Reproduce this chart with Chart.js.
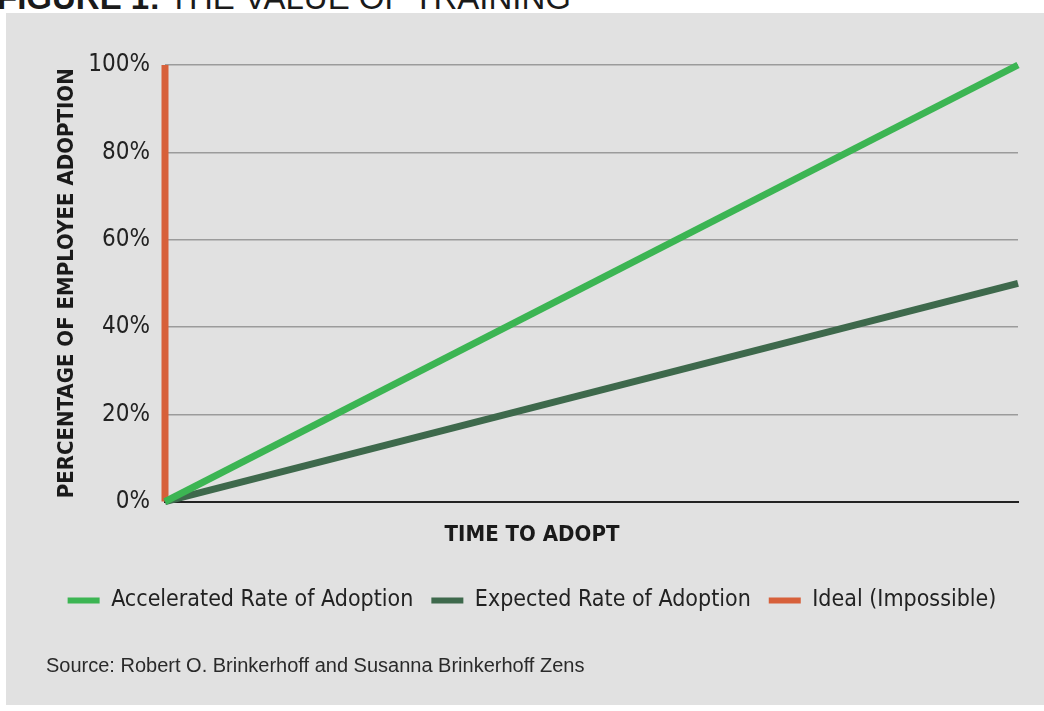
<!DOCTYPE html>
<html>
<head>
<meta charset="utf-8">
<script src="https://cdn.jsdelivr.net/npm/chart.js@4.4.1/dist/chart.umd.min.js"></script>
<style>
  html, body { margin: 0; padding: 0; background: #ffffff; overflow: hidden; }
  body { width: 1044px; height: 711px; position: relative; }
  #header {
    position: absolute; left: -3px; top: -19px;
    font-family: "Liberation Sans", Arial, sans-serif; font-size: 33px; line-height: 33px;
    color: #1a1a1a; white-space: nowrap;
  }
  #header b { font-weight: bold; }
  #panel {
    position: absolute; left: 6px; top: 13px; width: 1038px; height: 692px;
    background: #e1e1e1;
  }
</style>
</head>
<body>
<div id="header"><b>FIGURE 1:</b> THE VALUE OF TRAINING</div>
<div id="panel"><canvas id="adoptionChart" width="1038" height="692"></canvas></div>
<script>
// time runs 0..100 (no tick labels shown), adoption in %
const timePoints = [0, 100];
const acceleratedRate = [0, 100];
const expectedRate = [0, 50];
const idealTime = [0, 0];
const idealRate = [0, 100];
const seriesNames = ['Accelerated Rate of Adoption', 'Expected Rate of Adoption', 'Ideal (Impossible)'];
const yTickStep = 20;

const narrow = "'Liberation Sans Narrow', 'DejaVu Sans Condensed', 'Arial Narrow', sans-serif";

function toPoints(xs, ys) {
    return xs.map((x, i) => ({ x: x, y: ys[i] }));
}

const ctx = document.getElementById('adoptionChart').getContext('2d');
const adoptionChart = new Chart(ctx, {
    type: 'line',
    data: {
        datasets: [{
            label: seriesNames[0],
            data: toPoints(timePoints, acceleratedRate),
            borderColor: '#3cb553',
            backgroundColor: '#3cb553',
            borderWidth: 7,
            pointRadius: 0,
            clip: false
        }, {
            label: seriesNames[1],
            data: toPoints(timePoints, expectedRate),
            borderColor: '#3e694c',
            backgroundColor: '#3e694c',
            borderWidth: 7,
            pointRadius: 0,
            clip: false
        }, {
            label: seriesNames[2],
            data: toPoints(idealTime, idealRate),
            borderColor: '#d7603a',
            backgroundColor: '#d7603a',
            borderWidth: 7,
            pointRadius: 0,
            clip: false
        }]
    },
    options: {
        responsive: false,
        animation: false,
        layout: {
            padding: { left: 40, right: 26, top: 52, bottom: 27 }
        },
        scales: {
            x: {
                type: 'linear',
                min: 0,
                max: 100,
                ticks: { display: false },
                grid: { display: false, drawTicks: false },
                border: { display: true, color: '#222222', width: 2 }
            },
            y: {
                min: 0,
                max: 100,
                afterFit: (scale) => { scale.width = 119; },
                ticks: {
                    stepSize: yTickStep,
                    padding: 15,
                    color: '#222222',
                    font: { family: narrow, size: 24 },
                    callback: (v) => v + '%'
                },
                grid: { color: '#9b9b9b', lineWidth: 1.5, drawTicks: false },
                border: { display: false },
                title: {
                    display: true,
                    text: 'PERCENTAGE OF EMPLOYEE ADOPTION',
                    color: '#1a1a1a',
                    font: { family: narrow, size: 22, weight: 'bold' },
                    padding: { top: 8, bottom: 0 }
                }
            }
        },
        plugins: {
            tooltip: { enabled: false },
            title: {
                display: true,
                position: 'bottom',
                weight: 500,
                text: 'TIME TO ADOPT',
                color: '#1a1a1a',
                font: { family: narrow, size: 22, weight: 'bold' },
                padding: { top: 20, bottom: 23 }
            },
            legend: {
                position: 'bottom',
                weight: 1000,
                labels: {
                    boxWidth: 32,
                    boxHeight: 6,
                    padding: 18,
                    color: '#222222',
                    font: { family: narrow, size: 23 },
                    generateLabels: (chart) =>
                        Chart.defaults.plugins.legend.labels.generateLabels(chart)
                            .map(l => Object.assign(l, { lineWidth: 0 }))
                }
            },
            subtitle: {
                display: true,
                position: 'bottom',
                weight: 2000,
                align: 'start',
                text: 'Source: Robert O. Brinkerhoff and Susanna Brinkerhoff Zens',
                color: '#2a2a2a',
                font: { family: "'Liberation Sans', Arial, sans-serif", size: 20 },
                padding: { top: 32, bottom: 0 }
            }
        }
    }
});
</script>
</body>
</html>
